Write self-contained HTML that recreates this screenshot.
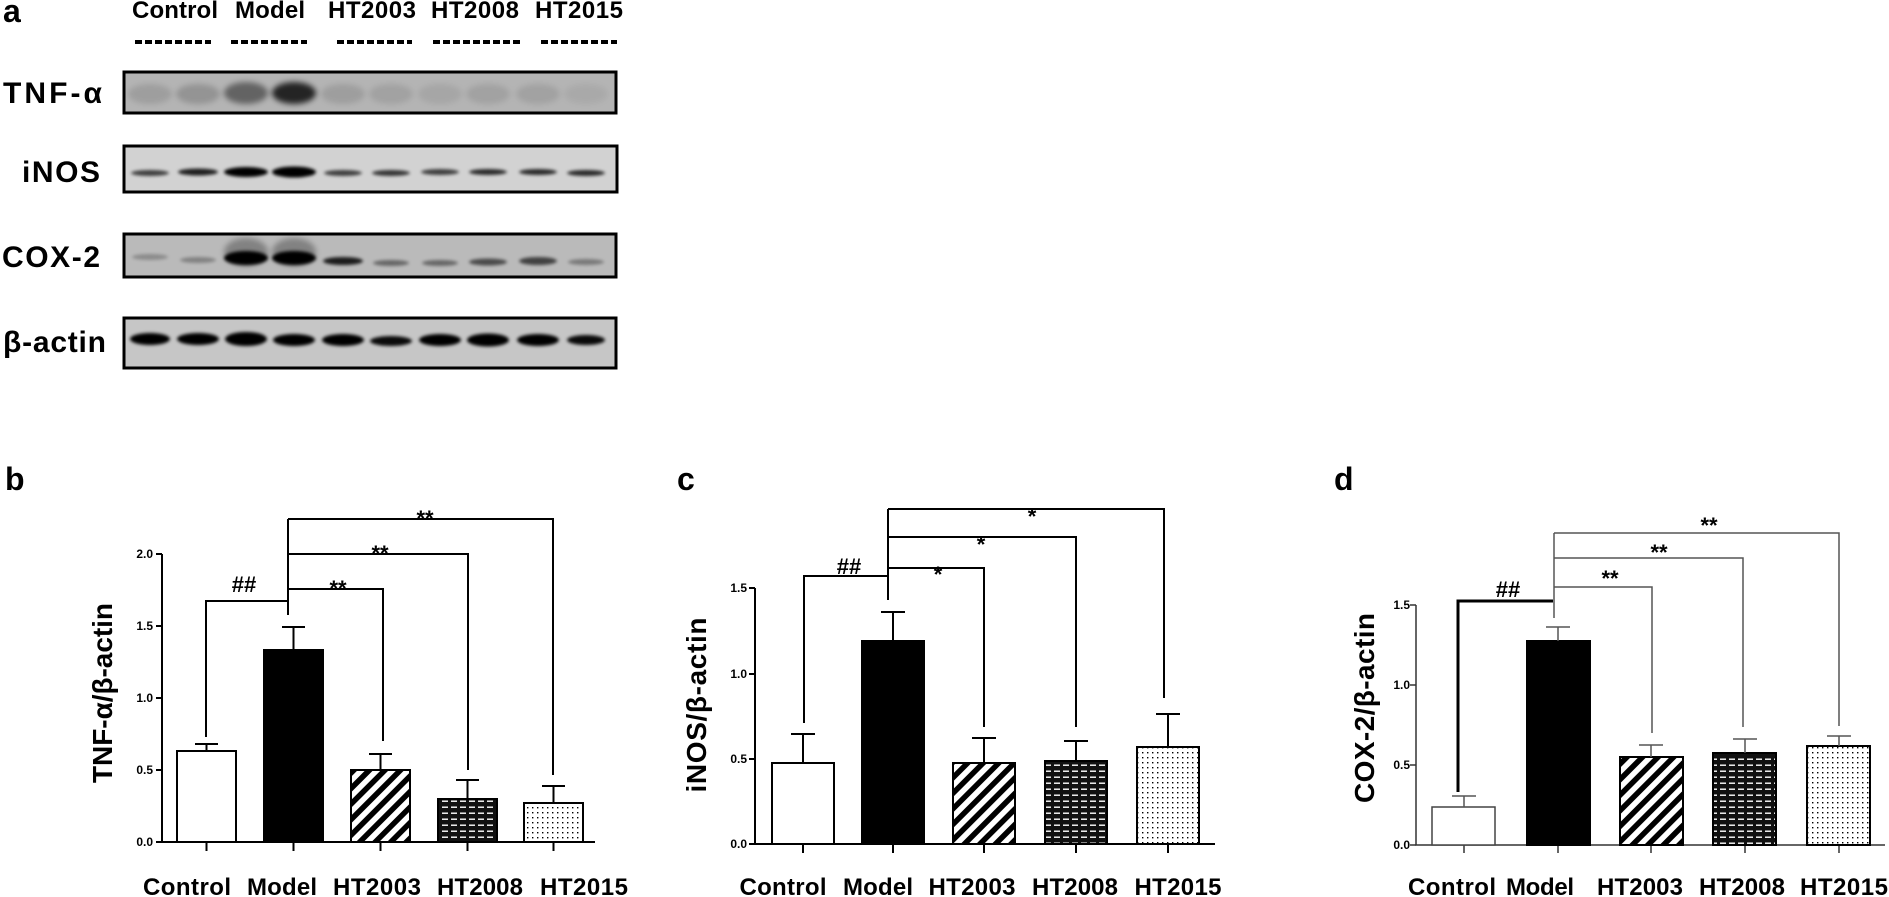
<!DOCTYPE html>
<html><head><meta charset="utf-8"><style>
html,body{margin:0;padding:0;background:#fff;}
svg{display:block;}
text{font-family:"Liberation Sans",Arial,sans-serif;font-weight:bold;fill:#000;}
</style></head><body>
<svg width="1889" height="897" viewBox="0 0 1889 897" xmlns="http://www.w3.org/2000/svg">
<defs>
<filter id="bl" x="-50%" y="-100%" width="200%" height="300%"><feGaussianBlur stdDeviation="3"/></filter>
<filter id="bl2" x="-50%" y="-100%" width="200%" height="300%"><feGaussianBlur stdDeviation="1.5"/></filter>
<pattern id="diag" patternUnits="userSpaceOnUse" width="11" height="11" patternTransform="rotate(45)">
<rect width="11" height="11" fill="#fff"/><rect width="5.5" height="11" fill="#000"/></pattern>
<pattern id="brick" patternUnits="userSpaceOnUse" width="9" height="6">
<rect width="9" height="6" fill="#111"/><rect x="1" y="2.5" width="6" height="1.4" fill="#fff"/></pattern>
<pattern id="dots" patternUnits="userSpaceOnUse" width="5" height="5">
<rect width="5" height="5" fill="#fff"/><rect x="2" y="2" width="1.4" height="1.4" fill="#000"/></pattern>
<linearGradient id="lanes" x1="0" x2="1" y1="0" y2="0">
<stop offset="0" stop-color="#000" stop-opacity="0"/><stop offset="1" stop-color="#000" stop-opacity="0"/></linearGradient>
</defs>

<!-- Panel a -->
<text x="3" y="22" font-size="32">a</text>
<text x="175" y="18" font-size="24" text-anchor="middle" textLength="86">Control</text>
<text x="270" y="18" font-size="24" text-anchor="middle" textLength="70">Model</text>
<text x="372" y="18" font-size="24" text-anchor="middle" textLength="88">HT2003</text>
<text x="475" y="18" font-size="24" text-anchor="middle" textLength="88">HT2008</text>
<text x="579" y="18" font-size="24" text-anchor="middle" textLength="88">HT2015</text>
<g stroke="#000" stroke-width="4" stroke-dasharray="7,3">
<line x1="135" y1="42" x2="211" y2="42"/><line x1="231" y1="42" x2="307" y2="42"/>
<line x1="337" y1="42" x2="412" y2="42"/><line x1="433" y1="42" x2="521" y2="42"/>
<line x1="541" y1="42" x2="617" y2="42"/></g>

<text x="102" y="103" font-size="30" text-anchor="end" textLength="99">TNF-α</text>
<text x="100" y="182" font-size="30" text-anchor="end" textLength="78">iNOS</text>
<text x="100" y="267" font-size="30" text-anchor="end" textLength="98">COX-2</text>
<text x="106" y="352" font-size="30" text-anchor="end" textLength="103">β-actin</text>

<!-- TNF row -->
<rect x="124" y="72" width="492" height="41" fill="#b4b4b4"/>
<g filter="url(#bl)" fill="#000">
<ellipse cx="150" cy="94" rx="22" ry="10" opacity="0.12"/>
<ellipse cx="198" cy="94" rx="22" ry="10" opacity="0.18"/>
<ellipse cx="246" cy="93" rx="22" ry="11" opacity="0.45"/>
<ellipse cx="294" cy="93" rx="22" ry="11" opacity="0.8"/>
<ellipse cx="343" cy="94" rx="22" ry="10" opacity="0.12"/>
<ellipse cx="391" cy="94" rx="22" ry="10" opacity="0.1"/>
<ellipse cx="440" cy="94" rx="22" ry="10" opacity="0.08"/>
<ellipse cx="488" cy="94" rx="22" ry="10" opacity="0.1"/>
<ellipse cx="538" cy="94" rx="22" ry="10" opacity="0.1"/>
<ellipse cx="586" cy="94" rx="22" ry="10" opacity="0.06"/>
</g>
<rect x="124" y="72" width="492" height="41" fill="none" stroke="#000" stroke-width="3"/>

<!-- iNOS row -->
<rect x="124" y="146" width="493" height="46" fill="#d2d2d2"/>
<g filter="url(#bl2)" fill="#000">
<ellipse cx="150" cy="173" rx="19" ry="3" opacity="0.7"/>
<ellipse cx="198" cy="172" rx="20" ry="3.5" opacity="0.85"/>
<ellipse cx="246" cy="172" rx="22" ry="5" opacity="1"/>
<ellipse cx="294" cy="172" rx="22" ry="5.5" opacity="1"/>
<ellipse cx="343" cy="173" rx="19" ry="3" opacity="0.7"/>
<ellipse cx="391" cy="173" rx="19" ry="3" opacity="0.75"/>
<ellipse cx="440" cy="172" rx="19" ry="3" opacity="0.7"/>
<ellipse cx="488" cy="172" rx="19" ry="3" opacity="0.8"/>
<ellipse cx="538" cy="172" rx="19" ry="3" opacity="0.8"/>
<ellipse cx="586" cy="173" rx="19" ry="3" opacity="0.8"/>
</g>
<rect x="124" y="146" width="493" height="46" fill="none" stroke="#000" stroke-width="3"/>

<!-- COX-2 row -->
<rect x="124" y="234" width="492" height="43" fill="#bababa"/>
<g filter="url(#bl2)" fill="#000">
<ellipse cx="150" cy="257" rx="18" ry="3" opacity="0.25"/>
<ellipse cx="198" cy="260" rx="18" ry="3" opacity="0.3"/>
<ellipse cx="246" cy="258" rx="22" ry="7" opacity="1"/>
<ellipse cx="294" cy="258" rx="22" ry="7" opacity="1"/>
<ellipse cx="343" cy="261" rx="20" ry="4" opacity="0.85"/>
<ellipse cx="391" cy="263" rx="18" ry="3" opacity="0.45"/>
<ellipse cx="440" cy="263" rx="18" ry="3" opacity="0.45"/>
<ellipse cx="488" cy="262" rx="19" ry="3.5" opacity="0.6"/>
<ellipse cx="538" cy="261" rx="19" ry="4" opacity="0.65"/>
<ellipse cx="586" cy="262" rx="18" ry="3" opacity="0.35"/>
</g>
<g filter="url(#bl)" fill="#000">
<ellipse cx="246" cy="252" rx="22" ry="14" opacity="0.3"/>
<ellipse cx="294" cy="252" rx="22" ry="14" opacity="0.3"/>
</g>
<rect x="124" y="234" width="492" height="43" fill="none" stroke="#000" stroke-width="3"/>

<!-- beta-actin row -->
<rect x="124" y="318" width="492" height="50" fill="#c6c6c6"/>
<g filter="url(#bl2)" fill="#000">
<ellipse cx="150" cy="339" rx="20" ry="6" opacity="1"/>
<ellipse cx="198" cy="339" rx="21" ry="6" opacity="1"/>
<ellipse cx="246" cy="339" rx="21" ry="7" opacity="1"/>
<ellipse cx="294" cy="340" rx="21" ry="6" opacity="1"/>
<ellipse cx="343" cy="340" rx="21" ry="6" opacity="1"/>
<ellipse cx="391" cy="341" rx="21" ry="5" opacity="0.95"/>
<ellipse cx="440" cy="340" rx="21" ry="6" opacity="1"/>
<ellipse cx="488" cy="340" rx="21" ry="6.5" opacity="1"/>
<ellipse cx="538" cy="340" rx="21" ry="6" opacity="1"/>
<ellipse cx="586" cy="340" rx="19" ry="5" opacity="0.95"/>
</g>
<rect x="124" y="318" width="492" height="50" fill="none" stroke="#000" stroke-width="3"/>

<!-- Panel b -->
<text x="5" y="490" font-size="32">b</text>
<text transform="translate(112,693) rotate(-90)" font-size="28" text-anchor="middle" textLength="180">TNF-α/β-actin</text>
<g font-size="12" text-anchor="end">
<text x="153" y="846">0.0</text><text x="153" y="774">0.5</text><text x="153" y="702">1.0</text><text x="153" y="630">1.5</text><text x="153" y="558">2.0</text></g>
<g stroke="#000" stroke-width="2" fill="none">
<path d="M162 554 V842 H595"/>
<path d="M156 554H162M156 626H162M156 698H162M156 770H162M156 842H162"/>
<path d="M206.5 842V851M293.5 842V851M380.5 842V851M467.5 842V851M553.5 842V851"/>
</g>
<rect x="177" y="751" width="59" height="91" fill="#fff" stroke="#000" stroke-width="2"/>
<rect x="264" y="650" width="59" height="192" fill="#000" stroke="#000" stroke-width="2"/>
<rect x="351" y="770" width="59" height="72" fill="url(#diag)" stroke="#000" stroke-width="2"/>
<rect x="438" y="799" width="59" height="43" fill="url(#brick)" stroke="#000" stroke-width="2"/>
<rect x="524" y="803" width="59" height="39" fill="url(#dots)" stroke="#000" stroke-width="2"/>
<g stroke="#000" stroke-width="2" fill="none">
<path d="M206.5 751V744M195 744H218"/>
<path d="M293.5 650V627M282 627H305"/>
<path d="M380.5 770V754M369 754H392"/>
<path d="M467.5 799V780M456 780H479"/>
<path d="M553.5 803V786M542 786H565"/>
<path d="M206 737V601H288M288 519V615"/>
<path d="M288 589H383V741M288 554H468V770M288 519H553V775"/>
</g>
<g font-size="22" text-anchor="middle">
<text x="244" y="592">##</text><text x="338" y="596">**</text><text x="380" y="561">**</text><text x="425" y="526">**</text></g>
<g font-size="24" text-anchor="middle">
<text x="187" y="895" textLength="88">Control</text><text x="282" y="895" textLength="70">Model</text>
<text x="377" y="895" textLength="88">HT2003</text><text x="480" y="895" textLength="86">HT2008</text>
<text x="584" y="895" textLength="88">HT2015</text></g>

<!-- Panel c -->
<text x="677" y="490" font-size="32">c</text>
<text transform="translate(706,705) rotate(-90)" font-size="28" text-anchor="middle" textLength="175">iNOS/β-actin</text>
<g font-size="12" text-anchor="end">
<text x="747" y="848">0.0</text><text x="747" y="763">0.5</text><text x="747" y="678">1.0</text><text x="747" y="592">1.5</text></g>
<g stroke="#000" stroke-width="2" fill="none">
<path d="M755 588 V844 H1215"/>
<path d="M749 588H755M749 674H755M749 759H755M749 844H755"/>
<path d="M803 844V853M893 844V853M984 844V853M1076 844V853M1168 844V853"/>
</g>
<rect x="772" y="763" width="62" height="81" fill="#fff" stroke="#000" stroke-width="2"/>
<rect x="862" y="641" width="62" height="203" fill="#000" stroke="#000" stroke-width="2"/>
<rect x="953" y="763" width="62" height="81" fill="url(#diag)" stroke="#000" stroke-width="2"/>
<rect x="1045" y="761" width="62" height="83" fill="url(#brick)" stroke="#000" stroke-width="2"/>
<rect x="1137" y="747" width="62" height="97" fill="url(#dots)" stroke="#000" stroke-width="2"/>
<g stroke="#000" stroke-width="2" fill="none">
<path d="M803 763V734M791 734H815"/>
<path d="M893 641V612M881 612H905"/>
<path d="M984 763V738M972 738H996"/>
<path d="M1076 761V741M1064 741H1088"/>
<path d="M1168 747V714M1156 714H1180"/>
<path d="M804 723V576H888M888 509V600"/>
<path d="M888 568H984V727M888 537H1076V727M888 509H1164V698"/>
</g>
<g font-size="22" text-anchor="middle">
<text x="849" y="574">##</text><text x="938" y="582">*</text><text x="981" y="552">*</text><text x="1032" y="524">*</text></g>
<g font-size="24" text-anchor="middle">
<text x="783" y="895" textLength="87">Control</text><text x="878" y="895" textLength="70">Model</text>
<text x="972" y="895" textLength="87">HT2003</text><text x="1075" y="895" textLength="86">HT2008</text>
<text x="1178" y="895" textLength="87">HT2015</text></g>

<!-- Panel d -->
<text x="1334" y="490" font-size="32">d</text>
<text transform="translate(1374,708) rotate(-90)" font-size="28" text-anchor="middle" textLength="190">COX-2/β-actin</text>
<g font-size="12" text-anchor="end" fill="#333">
<text x="1410" y="849">0.0</text><text x="1410" y="769">0.5</text><text x="1410" y="689">1.0</text><text x="1410" y="609">1.5</text></g>
<g stroke="#333" stroke-width="1.5" fill="none">
<path d="M1416 605 V845 H1885"/>
<path d="M1410 605H1416M1410 685H1416M1410 765H1416M1410 845H1416"/>
<path d="M1464 845V853M1558 845V853M1651 845V853M1745 845V853M1839 845V853"/>
</g>
<rect x="1432" y="807" width="63" height="38" fill="#fff" stroke="#444" stroke-width="1.5"/>
<rect x="1527" y="641" width="63" height="204" fill="#000" stroke="#000" stroke-width="2"/>
<rect x="1620" y="757" width="63" height="88" fill="url(#diag)" stroke="#000" stroke-width="2"/>
<rect x="1713" y="753" width="63" height="92" fill="url(#brick)" stroke="#000" stroke-width="2"/>
<rect x="1807" y="746" width="63" height="99" fill="url(#dots)" stroke="#000" stroke-width="2"/>
<g stroke="#555" stroke-width="1.5" fill="none">
<path d="M1464 807V796M1452 796H1476"/>
<path d="M1558 641V627M1546 627H1570"/>
<path d="M1651 757V745M1639 745H1663"/>
<path d="M1745 753V739M1733 739H1757"/>
<path d="M1839 746V736M1827 736H1851"/>
<path d="M1554 533V618"/>
<path d="M1554 587H1652V733M1554 558H1743V727M1554 533H1839V726"/>
</g>
<path d="M1458 792V601H1553" stroke="#000" stroke-width="3" fill="none"/>
<g font-size="22" text-anchor="middle">
<text x="1508" y="597">##</text><text x="1610" y="586">**</text><text x="1659" y="560">**</text><text x="1709" y="533">**</text></g>
<g font-size="24" text-anchor="middle">
<text x="1452" y="895" textLength="88">Control</text><text x="1540" y="895" textLength="68">Model</text>
<text x="1640" y="895" textLength="86">HT2003</text><text x="1742" y="895" textLength="86">HT2008</text>
<text x="1844" y="895" textLength="88">HT2015</text></g>
</svg>
</body></html>
